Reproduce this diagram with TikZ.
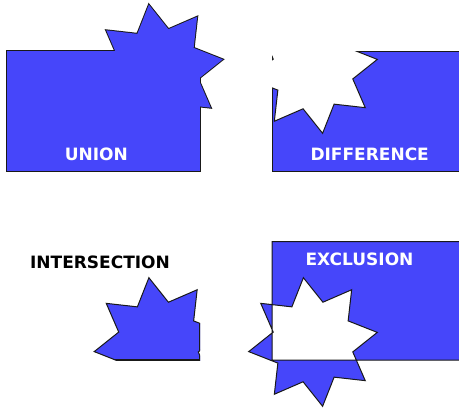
\documentclass[tikz,border=0pt]{standalone}
\usepackage{fontspec}
\setsansfont{DejaVu Sans}
\usetikzlibrary{calc}
\definecolor{fillblue}{RGB}{70,70,250}

\tikzset{
  edge line/.style={draw=black!90, line width=1pt, line join=miter},
  wide line/.style={edge line, line width=2pt},
  caption/.style={font=\sffamily\bfseries\fontsize{17}{17}\selectfont,
    inner sep=0pt, anchor=base},
}

% eight-pointed star round a centre
\newcommand{\starpath}[1]{%
  ([shift={#1}]36.5:\ro)
  \foreach \k in {0,...,7} {
    -- ([shift={#1}]{59+45*\k}:\ri) -- ([shift={#1}]{81.5+45*\k}:\ro)
  } -- cycle}

\begin{document}
\begin{tikzpicture}[x=1pt, y=-1pt]
\def\ro{65}
\def\ri{41}
\clip (0,0) rectangle (459,408);

\coordinate (Ucen) at (158.5,69);
\coordinate (Dcen) at (313,69);
\coordinate (Icen) at (158.5,342);
\coordinate (Xcen) at (313,342);

% union
\draw[wide line] (7,51) rectangle (200,171);
\draw[wide line] \starpath{(Ucen)};
\fill[fillblue] (7,51) rectangle (200,171);
\fill[fillblue] \starpath{(Ucen)};

% difference
\begin{scope}
  \clip (271.5,50.5) rectangle (465.5,171.5);
  \draw[edge line, fill=fillblue] (272,51) rectangle (465,171);
  \fill[white] \starpath{(Dcen)};
  \clip (272,51) rectangle (465,171);
  \draw[edge line] \starpath{(Dcen)};
\end{scope}

% intersection
\begin{scope}
  \clip (7,241) rectangle (200,360);
  \draw[edge line, fill=fillblue] \starpath{(Icen)};
  \clip \starpath{(Icen)};
  \draw[wide line] (7,241) rectangle (200,360);
\end{scope}

% exclusion
\draw[edge line, fill=fillblue, even odd rule]
  (272,241.5) rectangle (465,360) \starpath{(Xcen)};

\node[caption, text=white] (union) at (96.3,160) {UNION};
\node[caption, text=white] (difference) at (369.7,160) {DIFFERENCE};
\node[caption] (intersection) at (100,268) {INTERSECTION};
\node[caption, text=white] (exclusion) at (359.5,265.7) {EXCLUSION};
\end{tikzpicture}
\end{document}
